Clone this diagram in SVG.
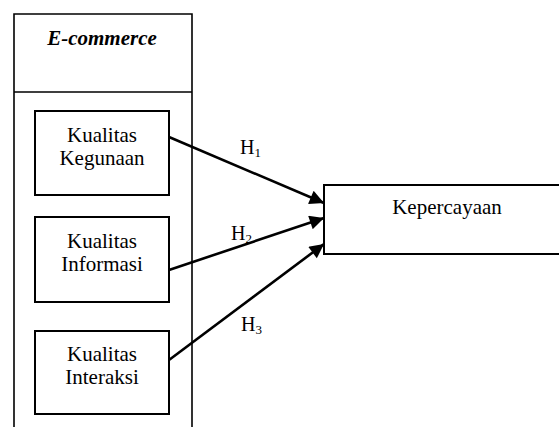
<svg xmlns="http://www.w3.org/2000/svg" width="559" height="427" viewBox="0 0 559 427">
<style>
.t{font-family:"Liberation Serif","Times New Roman",serif;font-size:21px;fill:#000;text-anchor:middle}
.h{font-family:"Liberation Serif","Times New Roman",serif;font-size:20px;fill:#000}
.sub{font-size:13px}
.box{fill:#fff;stroke:#000;stroke-width:2}
.frame{fill:none;stroke:#000;stroke-width:1.6}
.conn{stroke:#000;stroke-width:2.6;fill:none}
</style>
<defs>
<marker id="arr" viewBox="0 0 10 10" refX="10" refY="5" markerWidth="6.5" markerHeight="5.5" markerUnits="strokeWidth" orient="auto">
<path d="M0,0 L10,5 L0,10 z" fill="#000"/>
</marker>
</defs>
<rect width="559" height="427" fill="#fff"/>
<g id="ecommerce">
<path class="frame" d="M14,427 V14 H192 V427 M14,92 H192"/>
<text class="t" x="102" y="45" font-weight="bold" font-style="italic">E-commerce</text>
</g>
<g id="kegunaan">
<rect class="box" x="35" y="111" width="134" height="84"/>
<text class="t" x="102" y="142">Kualitas</text>
<text class="t" x="102" y="165">Kegunaan</text>
</g>
<g id="informasi">
<rect class="box" x="35" y="217" width="134" height="85"/>
<text class="t" x="102" y="248">Kualitas</text>
<text class="t" x="102" y="271">Informasi</text>
</g>
<g id="interaksi">
<rect class="box" x="35" y="331" width="134" height="83"/>
<text class="t" x="102" y="361">Kualitas</text>
<text class="t" x="102" y="384">Interaksi</text>
</g>
<g id="kepercayaan">
<rect class="box" x="324" y="185" width="240" height="69"/>
<text class="t" x="447" y="214">Kepercayaan</text>
</g>
<g id="connectors">
<line class="conn" x1="169" y1="137" x2="324" y2="203" marker-end="url(#arr)"/>
<line class="conn" x1="169" y1="270" x2="324" y2="218" marker-end="url(#arr)"/>
<line class="conn" x1="169" y1="360" x2="324" y2="244" marker-end="url(#arr)"/>
<text class="h" x="240" y="154">H<tspan class="sub" dy="3">1</tspan></text>
<text class="h" x="231" y="240">H<tspan class="sub" dy="3">2</tspan></text>
<text class="h" x="241" y="331">H<tspan class="sub" dy="3">3</tspan></text>
</g>
</svg>
